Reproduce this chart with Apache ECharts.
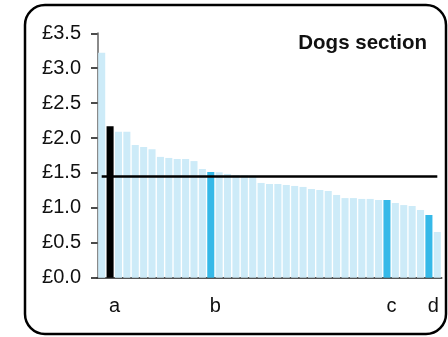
<!DOCTYPE html>
<html>
<head>
<meta charset="utf-8">
<script src="https://cdn.jsdelivr.net/npm/echarts@6/dist/echarts.min.js"></script>
<style>
  html, body { margin: 0; padding: 0; background: #fff; }
  #chart { width: 448px; height: 337px; }
</style>
</head>
<body>
<div id="chart"></div>
<script>
// one bar per outlet, sorted high to low; only four are named
const categories = ['', 'a', '', '', '', '', '', '', '', '', '', '', '', 'b', '', '', '', '', '', '', '',
  '', '', '', '', '', '', '', '', '', '', '', '', '', 'c', '', '', '', '', 'd', '']
const values = [3.22, 2.17, 2.09, 2.09, 1.90, 1.87, 1.84, 1.73, 1.715, 1.70, 1.70, 1.67, 1.557, 1.514,
  1.51, 1.486, 1.47, 1.465, 1.46, 1.357, 1.342, 1.342, 1.328, 1.314, 1.30, 1.27, 1.256, 1.242,
  1.185, 1.14, 1.14, 1.128, 1.128, 1.113, 1.113, 1.07, 1.04, 1.027, 0.97, 0.898, 0.655]
const average = 1.45
const yTicks = [0, 0.5, 1.0, 1.5, 2.0, 2.5, 3.0, 3.5]

const chart = echarts.init(document.getElementById('chart'))

function barColor(label) {
  if (label === 'a') return '#000000'
  if (label) return '#36b9e8'
  return '#cdebf8'
}

chart.setOption({
  animation: false,
  textStyle: {
    fontFamily: 'Liberation Sans, Arial, sans-serif'
  },
  title: {
    text: 'Dogs section',
    right: 16,
    top: 28,
    textStyle: {
      fontSize: 20.5,
      fontWeight: 'bold',
      color: '#111'
    }
  },
  graphic: [{
    type: 'rect',
    shape: { x: 25, y: 5, width: 421, height: 329, r: 20 },
    style: { fill: 'none', stroke: '#000', lineWidth: 2.5 },
    silent: true
  }],
  grid: {
    left: 97.5,
    right: 6.5,
    top: 33.3,
    bottom: 59.3
  },
  xAxis: {
    type: 'category',
    data: categories,
    axisLine: {
      lineStyle: { color: '#555', width: 2 }
    },
    axisTick: { show: false },
    axisLabel: {
      interval: 0,
      margin: 19,
      fontSize: 20,
      color: '#111',
      padding: [0, 0, 0, 9]
    }
  },
  yAxis: {
    type: 'value',
    min: yTicks[0],
    max: yTicks[yTicks.length - 1],
    interval: 0.5,
    splitLine: { show: false },
    axisLine: {
      show: true,
      lineStyle: { color: '#8a8a8a', width: 2 }
    },
    axisTick: {
      show: true,
      length: 6.5,
      lineStyle: { color: '#111', width: 1.5 }
    },
    axisLabel: {
      margin: 16.5,
      fontSize: 20,
      color: '#111',
      formatter: function (v) { return '£' + v.toFixed(1) }
    }
  },
  series: [{
    type: 'bar',
    barCategoryGap: '16%',
    data: values.map(function (v, i) {
      return { value: v, itemStyle: { color: barColor(categories[i]) } }
    }),
    markLine: {
      silent: true,
      symbol: 'none',
      label: { show: false },
      lineStyle: { color: '#000', width: 2.7, type: 'solid' },
      data: [[
        { coord: [0, average] },
        { coord: [values.length - 1, average] }
      ]]
    }
  }]
})
</script>
</body>
</html>
